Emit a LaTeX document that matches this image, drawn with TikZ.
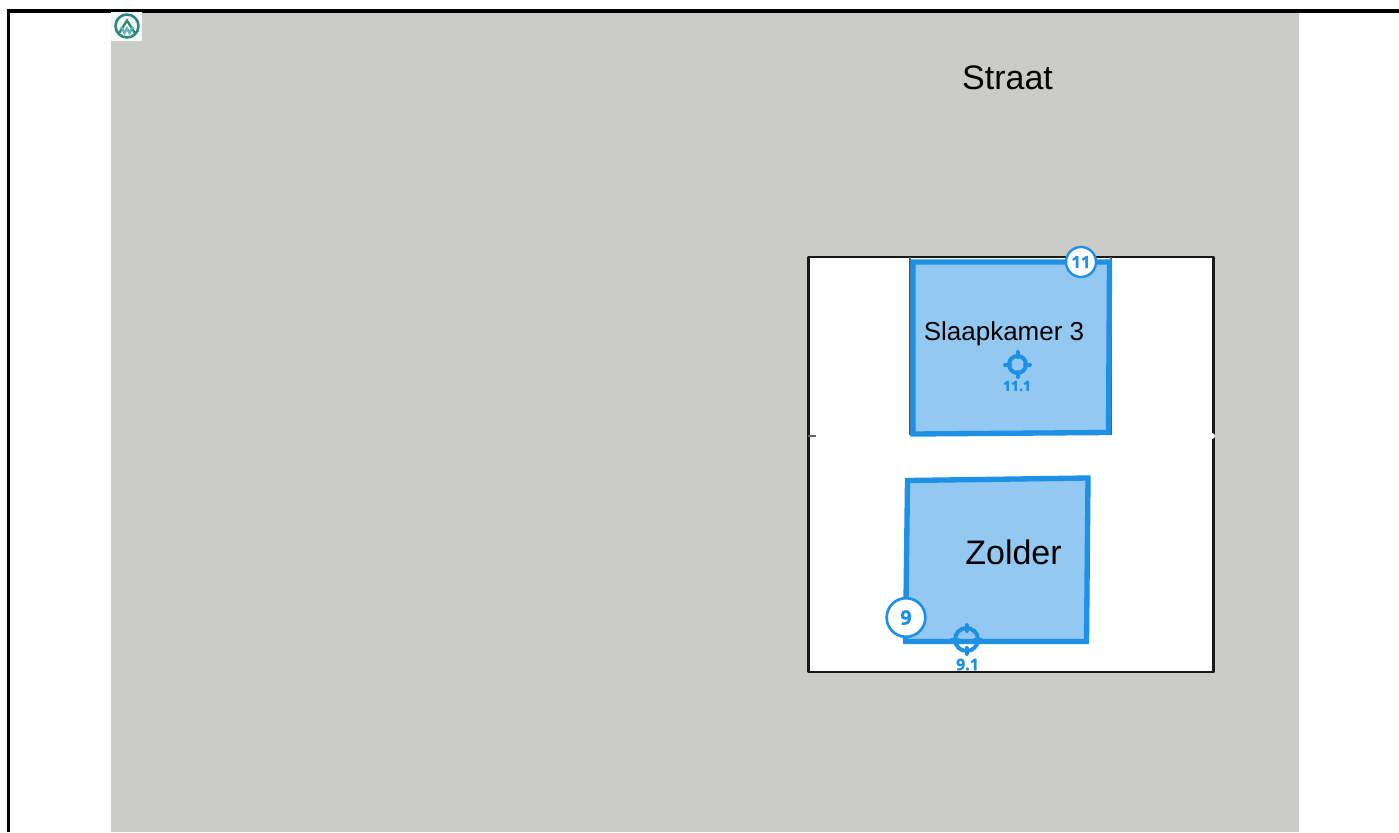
\documentclass[tikz,border=0pt]{standalone}
\usepackage{fontspec}
\setmainfont{Liberation Sans}
\newfontfamily\badgefont[BoldFeatures={FakeBold=1.2}]{Open Sans}
\definecolor{ground}{HTML}{CBCCC7}
\definecolor{roomblue}{HTML}{1E90E6}
\definecolor{roomfill}{HTML}{92C8F1}
\definecolor{logogreen}{HTML}{2F8577}
\definecolor{logoteal}{HTML}{62B8B4}
\newcommand{\ptfont}[1]{\fontsize{#1}{#1}\selectfont}
\tikzset{
  x=0.75pt,y=-0.75pt,
  room/.style={draw=roomblue,fill=roomfill,line width=4pt,miter limit=10},
  wall/.style={draw=black!90,line width=1.9pt,line join=round},
  thinwall/.style={draw=black!60,line width=1.2pt},
  badge/.style={circle,draw=roomblue,fill=white,inner sep=0pt,text=roomblue},
  reticle/.style={draw=roomblue,line cap=round},
  pointlabel/.style={text=roomblue,inner sep=0pt},
  roomlabel/.style={text=black,inner sep=0pt}
}
\begin{document}
\begin{tikzpicture}
\useasboundingbox (0,0) rectangle (1399,832);
\fill[white] (0,0) rectangle (1399,832);
% ground
\fill[ground] (111,12) rectangle (1299,832);
% page frame
\draw[black,line width=2.4pt] (1399,11) -- (8.5,11) -- (8.5,832);
% logo
\fill[white!92!logoteal] (111,12) rectangle (142,41);
\draw[logogreen,line width=1.9pt] (127,26) circle (11.5);
\draw[logogreen,line width=1.7pt] (118.5,34) -- (127,20.5) -- (135.5,34);
\draw[logoteal,line width=1.7pt] (121,27) -- (124.5,33) -- (127,28.5) -- (129.5,33) -- (133,27);
% plan
\draw[wall,fill=white] (808.5,257) rectangle (1213.5,672);
\fill[white] (1212,436) circle (3);
\draw[thinwall] (808,436) -- (816,436);
\draw[draw=black!65,line width=1.2pt] (910,257) -- (910,434.5) -- (1111,434.5) -- (1111,257);
% rooms
\draw[room] (913,262) -- (1109.5,262) -- (1108.5,432.5) -- (913,434) -- cycle;
\draw[room] (907.5,480.5) -- (1088,478) -- (1086.5,641.5) -- (905.5,641.5) -- cycle;
% labels
\node[roomlabel,font=\ptfont{25.5}] (straat) at (1007.5,78) {Straat};
\node[roomlabel,font=\ptfont{19.5}] (slaapkamer) at (1004,334) {Slaapkamer 3};
\node[roomlabel,font=\ptfont{25.5}] (zolder) at (1013.5,552.5) {Zolder};
% reticles
\coordinate (t11) at (1017.5,364.5);
\coordinate (t9) at (966.5,639.5);
\draw[reticle,line width=3pt] (t11) circle (8.5);
\draw[reticle,line width=3pt] (1017.5,352) -- (1017.5,357) (1017.5,372) -- (1017.5,377) (1005,364.5) -- (1010,364.5) (1025,364.5) -- (1030,364.5);
\draw[reticle,line width=3pt] (t9) circle (11.5);
\draw[reticle,line width=3pt] (966.5,625) -- (966.5,631) (966.5,648) -- (966.5,654) (952,639.5) -- (958,639.5) (975,639.5) -- (981,639.5);
\node[pointlabel,font=\badgefont\bfseries\ptfont{10.5}] (l11) at (1017,386) {11.1};
\node[pointlabel,font=\badgefont\bfseries\ptfont{12}] (l9) at (967.5,664.5) {9.1};
% badges
\node[badge,line width=1.8pt,minimum size=22.5pt,font=\badgefont\bfseries\ptfont{12.5}] (b11) at (1081,262) {11};
\node[badge,line width=2pt,minimum size=29pt,font=\badgefont\bfseries\ptfont{15}] (b9) at (906,617.5) {9};
\end{tikzpicture}
\end{document}
